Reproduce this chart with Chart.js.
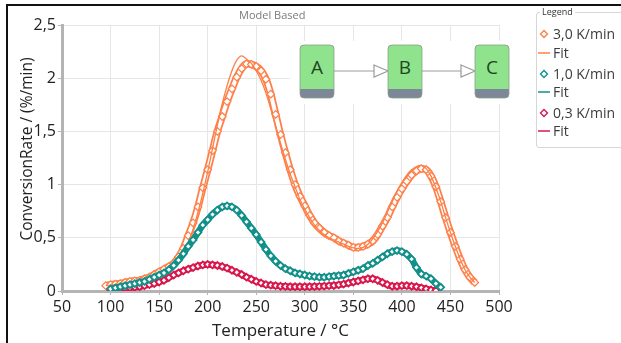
<!DOCTYPE html>
<html>
<head>
<meta charset="utf-8">
<script src="https://cdn.jsdelivr.net/npm/chart.js@4.4.1/dist/chart.umd.min.js"></script>
<style>
  html, body { margin: 0; padding: 0; background: #fff; }
  body { width: 621px; height: 343px; position: relative; overflow: hidden; font-family: "Open Sans", sans-serif; }
  #frame { position: absolute; left: 6px; top: 4px; width: 700px; height: 400px; border-left: 2px solid #111; border-top: 2px solid #111; }
  #c { position: absolute; left: 0; top: 0; }
  #title { position: absolute; left: 239px; top: 7px; font-size: 11px; color: #7a7a7a; }
  #ytitle { position: absolute; left: 25.5px; top: 149px; transform: translate(-50%, -50%) rotate(-90deg);
    font-size: 15.5px; color: #222; white-space: nowrap; line-height: 20px; }
  #deco { position: absolute; left: 0; top: 0; pointer-events: none; }
  #legend { position: absolute; left: 536px; top: 12px; width: 100px; height: 134px; border: 1px solid #d6d6d6; border-radius: 3px; }
  #legend .lt { position: absolute; left: 3px; top: -7px; background: #fff; padding: 0 2px; font-size: 9px; color: #333; line-height: 12px; }
  #legend .row { position: absolute; left: 0; height: 18px; line-height: 18px; font-size: 14px; color: #3c3c3c; white-space: nowrap; }
  #legend .row svg { position: absolute; left: 0; top: 0; }
  #legend .row span { position: absolute; left: 16px; top: 0; }
</style>
</head>
<body>
<div id="frame"></div>
<canvas id="c" width="621" height="343"></canvas>
<div id="title">Model Based</div>
<div id="ytitle">ConversionRate / (%/min)</div>
<svg id="deco" width="621" height="343" viewBox="0 0 621 343">
  <rect x="290" y="41" width="226" height="63" fill="#fff"/>
  <g stroke="#9c9c9c" stroke-width="1.2">
    <line x1="334" y1="71" x2="374" y2="71"/>
    <polygon points="374,65 388,71 374,77" fill="#fff"/>
    <line x1="421" y1="71" x2="461" y2="71"/>
    <polygon points="461,65 475,71 461,77" fill="#fff"/>
  </g>
  <g id="boxes"></g>
</svg>
<div id="legend">
  <div class="lt">Legend</div>
</div>
<script>
// temperature grid of the curves (°C)
const temps = [95, 100, 105, 110, 115, 120, 125, 130, 135, 140, 145, 150, 155, 160, 165, 170, 175, 180, 185, 190,
  195, 200, 205, 210, 215, 220, 225, 230, 235, 240, 245, 250, 255, 260, 265, 270, 275, 280, 285, 290,
  295, 300, 305, 310, 315, 320, 325, 330, 335, 340, 345, 350, 355, 360, 365, 370, 375, 380, 385, 390,
  395, 400, 405, 410, 415, 420, 425, 430, 435, 440, 445, 450, 455, 460, 465, 470, 475];

// 3,0 K/min
const orangeRate = [0.05, 0.06, 0.065, 0.07, 0.08, 0.09, 0.095, 0.10, 0.115, 0.13,
  0.155, 0.18, 0.205, 0.23, 0.26, 0.32, 0.40, 0.52, 0.64, 0.79,
  0.97, 1.14, 1.32, 1.50, 1.64, 1.78, 1.90, 2.01, 2.09, 2.135,
  2.13, 2.11, 2.07, 1.99, 1.85, 1.66, 1.47, 1.30, 1.14, 1.00,
  0.89, 0.80, 0.71, 0.64, 0.59, 0.55, 0.52, 0.50, 0.47, 0.45,
  0.43, 0.41, 0.41, 0.42, 0.44, 0.47, 0.53, 0.61, 0.69, 0.79,
  0.88, 0.96, 1.03, 1.09, 1.13, 1.15, 1.14, 1.08, 0.98, 0.84,
  0.69, 0.55, 0.42, 0.30, 0.20, 0.13, 0.08];
const orangeFit = [0.05, 0.055, 0.06, 0.065, 0.07, 0.08, 0.09, 0.10, 0.11, 0.125,
  0.14, 0.16, 0.185, 0.21, 0.25, 0.30, 0.37, 0.46, 0.58, 0.74,
  0.92, 1.12, 1.34, 1.56, 1.76, 1.93, 2.07, 2.17, 2.21, 2.18,
  2.14, 2.07, 1.98, 1.86, 1.71, 1.55, 1.39, 1.24, 1.10, 0.98,
  0.86, 0.77, 0.69, 0.62, 0.57, 0.53, 0.50, 0.48, 0.46, 0.44,
  0.42, 0.405, 0.40, 0.41, 0.44, 0.49, 0.56, 0.64, 0.74, 0.84,
  0.94, 1.02, 1.09, 1.14, 1.17, 1.18, 1.15, 1.08, 0.97, 0.84,
  0.69, 0.55, 0.42, 0.30, 0.20, 0.13, 0.08];

// 1,0 K/min
const tealRate = [null, 0.02, 0.03, 0.04, 0.05, 0.06, 0.07, 0.08, 0.09, 0.11,
  0.13, 0.15, 0.17, 0.20, 0.24, 0.29, 0.35, 0.42, 0.48, 0.55,
  0.62, 0.67, 0.72, 0.76, 0.79, 0.80, 0.79, 0.76, 0.71, 0.65,
  0.59, 0.53, 0.46, 0.39, 0.33, 0.28, 0.24, 0.21, 0.19, 0.17,
  0.16, 0.15, 0.14, 0.135, 0.13, 0.13, 0.135, 0.14, 0.145, 0.15,
  0.165, 0.18, 0.195, 0.21, 0.24, 0.26, 0.29, 0.32, 0.35, 0.37,
  0.38, 0.37, 0.345, 0.30, 0.22, 0.16, 0.14, 0.115, 0.07, 0.035,
  null, null, null, null, null, null, null];
const tealFit = [null, 0.02, 0.03, 0.035, 0.045, 0.055, 0.065, 0.075, 0.09, 0.105,
  0.125, 0.145, 0.17, 0.20, 0.24, 0.29, 0.35, 0.41, 0.48, 0.55,
  0.62, 0.68, 0.73, 0.77, 0.80, 0.81, 0.80, 0.77, 0.72, 0.66,
  0.59, 0.52, 0.45, 0.39, 0.33, 0.28, 0.24, 0.21, 0.19, 0.17,
  0.16, 0.15, 0.14, 0.135, 0.13, 0.13, 0.135, 0.14, 0.145, 0.155,
  0.165, 0.18, 0.20, 0.22, 0.24, 0.27, 0.30, 0.33, 0.355, 0.37,
  0.38, 0.37, 0.34, 0.29, 0.22, 0.17, 0.14, 0.11, 0.07, 0.04,
  null, null, null, null, null, null, null];

// 0,3 K/min
const redRate = [null, 0.01, 0.015, 0.02, 0.025, 0.03, 0.035, 0.04, 0.05, 0.06,
  0.07, 0.085, 0.10, 0.125, 0.15, 0.17, 0.19, 0.205, 0.22, 0.235,
  0.245, 0.25, 0.245, 0.24, 0.23, 0.215, 0.195, 0.175, 0.155, 0.13,
  0.11, 0.09, 0.075, 0.06, 0.055, 0.05, 0.045, 0.043, 0.04, 0.04,
  0.04, 0.04, 0.04, 0.042, 0.044, 0.046, 0.05, 0.052, 0.058, 0.065,
  0.075, 0.085, 0.095, 0.105, 0.115, 0.115, 0.10, 0.08, 0.06, 0.045,
  0.045, 0.05, 0.05, 0.045, 0.04, 0.03, 0.02, 0.01, 0.005, null,
  null, null, null, null, null, null, null];
const redFit = [null, 0.01, 0.015, 0.02, 0.025, 0.03, 0.035, 0.04, 0.05, 0.06,
  0.07, 0.085, 0.10, 0.12, 0.145, 0.17, 0.19, 0.21, 0.225, 0.24,
  0.25, 0.25, 0.25, 0.24, 0.23, 0.215, 0.195, 0.175, 0.15, 0.13,
  0.11, 0.09, 0.075, 0.063, 0.055, 0.05, 0.046, 0.043, 0.041, 0.04,
  0.04, 0.04, 0.041, 0.042, 0.044, 0.047, 0.05, 0.054, 0.06, 0.067,
  0.075, 0.085, 0.095, 0.105, 0.112, 0.112, 0.10, 0.08, 0.062, 0.05,
  0.048, 0.05, 0.05, 0.045, 0.04, 0.03, 0.02, 0.01, 0.005, null,
  null, null, null, null, null, null, null];

const xTicks = [50, 100, 150, 200, 250, 300, 350, 400, 450, 500];
const yTicks = [0, 0.5, 1, 1.5, 2, 2.5];
const seriesNames = ['3,0 K/min', 'Fit', '1,0 K/min', 'Fit', '0,3 K/min', 'Fit'];
const steps = ['A', 'B', 'C'];

const ORANGE = '#ff7f48', TEAL = '#129089', RED = '#d8174b';
const font = 'Open Sans';

const pts = (vals) => temps.map((t, i) => ({ x: t, y: vals[i] })).filter((p) => p.y != null);

// measured series: a thick band under hollow diamonds (dense markers in the original)
const band = (vals, color, w) => ({ data: pts(vals), borderColor: color, borderWidth: w,
  cubicInterpolationMode: 'monotone', pointRadius: 0 });
const marks = (vals, color, r, bw) => ({ data: pts(vals), showLine: false, pointStyle: 'rectRot',
  pointRadius: r, pointBorderWidth: bw, pointBorderColor: color, pointBackgroundColor: '#fff' });
const fit = (vals, color) => ({ data: pts(vals), borderColor: color, borderWidth: 1.3,
  cubicInterpolationMode: 'monotone', pointRadius: 0 });

new Chart(document.getElementById('c'), {
  type: 'line',
  data: { datasets: [
    marks(tealRate, TEAL, 3.4, 1.8), band(tealRate, TEAL, 6.5), fit(tealFit, TEAL),
    marks(redRate, RED, 3.4, 1.8), band(redRate, RED, 6.5), fit(redFit, RED),
    fit(orangeFit, ORANGE), marks(orangeRate, ORANGE, 3.8, 1.2), band(orangeRate, '#fff', 4), band(orangeRate, ORANGE, 7.5),
  ] },
  options: {
    responsive: false, animation: false, devicePixelRatio: 1,
    layout: { padding: { left: 8, top: 25, right: 122, bottom: 0 } },
    plugins: { legend: { display: false }, tooltip: { enabled: false } },
    scales: {
      x: { type: 'linear', min: 50, max: 500,
        afterBuildTicks: (s) => { s.ticks = xTicks.map((v) => ({ value: v })); },
        afterFit: (s) => { s.height = 52; },
        grid: { color: '#e6e6e6', tickColor: '#b4b4b4', tickLength: 4 },
        border: { color: '#b4b4b4', width: 3 },
        ticks: { color: '#222', padding: 3, font: { family: font, size: 16 } },
        title: { display: true, text: 'Temperature / °C', color: '#222', padding: { top: 2, bottom: 2 }, font: { family: font, size: 17 } } },
      y: { min: 0, max: 2.5,
        afterBuildTicks: (s) => { s.ticks = yTicks.map((v) => ({ value: v })); },
        afterFit: (s) => { s.width = 54; },
        grid: { color: '#e6e6e6', tickColor: '#b4b4b4', tickLength: 4 },
        border: { color: '#b4b4b4', width: 3 },
        ticks: { color: '#222', padding: 2, font: { family: font, size: 16 },
          callback: (v) => String(v).replace('.', ',') } },
    },
  },
});

// reaction scheme A -> B -> C
const boxX = [300, 388, 475];
const g = document.getElementById('boxes');
g.innerHTML = steps.map((s, i) => {
  const x = boxX[i];
  return `<rect x="${x}" y="45" width="34" height="53" rx="4" fill="#7c8898"/>
    <path d="M${x} 89 V49 Q${x} 45 ${x + 4} 45 H${x + 30} Q${x + 34} 45 ${x + 34} 49 V89 Z" fill="#8fe38d"/>
    <rect x="${x}" y="45" width="34" height="53" rx="4" fill="none" stroke="#8aa08a" stroke-width="0.8"/>
    <text x="${x + 17}" y="73.5" text-anchor="middle" font-family="Open Sans" font-size="19" fill="#1d4a1d">${s}</text>`;
}).join('');

// legend
const legColors = [ORANGE, ORANGE, TEAL, TEAL, RED, RED];
const legY = [33, 52, 73, 91, 112, 130];
const leg = document.getElementById('legend');
seriesNames.forEach((name, i) => {
  const row = document.createElement('div');
  row.className = 'row';
  row.style.top = (legY[i] - 12 - 9) + 'px';
  const c = legColors[i];
  const sym = i % 2 === 0
    ? `<svg width="14" height="18"><polygon points="3.5,9 7,5.5 10.5,9 7,12.5" fill="#fff" stroke="${c}" stroke-width="1.4"/></svg>`
    : `<svg width="14" height="18"><line x1="1" y1="9" x2="13" y2="9" stroke="${c}" stroke-width="1.5"/></svg>`;
  row.innerHTML = sym + `<span>${name}</span>`;
  leg.appendChild(row);
});
</script>
</body>
</html>
